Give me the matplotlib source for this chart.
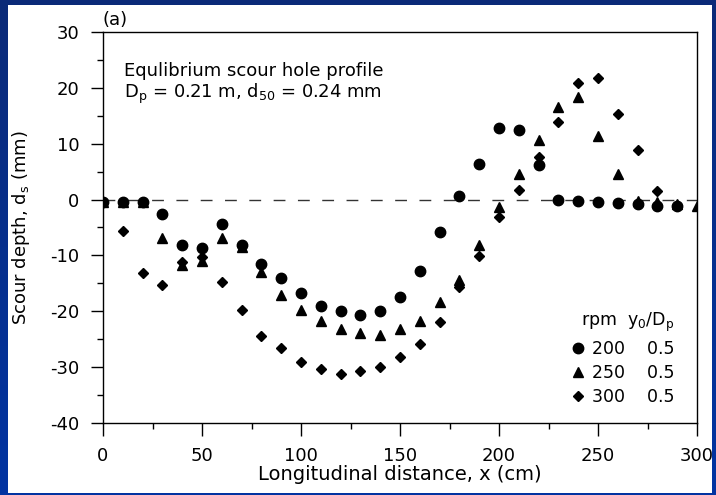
import numpy as np
import matplotlib
matplotlib.use("Agg")
import matplotlib.pyplot as plt
from matplotlib.patches import Rectangle
from matplotlib.ticker import MultipleLocator
from matplotlib.colors import LinearSegmentedColormap

plt.rcParams['font.family'] = ['DejaVu Sans']
plt.rcParams['mathtext.fontset'] = 'dejavusans'
plt.rcParams['axes.unicode_minus'] = False

# ---- data ----
x_200 = [0, 10, 20, 30, 40, 50, 60, 70, 80, 90, 100, 110, 120, 130, 140, 150,
         160, 170, 180, 190, 200, 210, 220, 230, 240, 250, 260, 270, 280, 290]
d_200 = [-0.4, -0.4, -0.4, -2.5, -8.2, -8.6, -4.4, -8.1, -11.6, -14.1, -16.7, -19.0,
         -19.9, -20.6, -19.9, -17.4, -12.7, -5.8, 0.7, 6.3, 12.8, 12.5, 6.2, -0.1,
         -0.2, -0.5, -0.7, -0.8, -1.1, -1.15]
x_250 = [0, 10, 20, 30, 40, 50, 60, 70, 80, 90, 100, 110, 120, 130, 140, 150,
         160, 170, 180, 190, 200, 210, 220, 230, 240, 250, 260, 270, 280, 290, 300]
d_250 = [-0.4, -0.4, -0.4, -6.8, -11.8, -11.0, -6.9, -8.5, -13.0, -17.1, -19.8, -21.7,
         -23.2, -23.9, -24.3, -23.2, -21.7, -18.3, -14.4, -8.1, -1.3, 4.5, 10.7, 16.5,
         18.3, 11.3, 4.6, -0.3, -0.5, -0.8, -1.1]
x_300 = [0, 10, 20, 30, 40, 50, 60, 70, 80, 90, 100, 110, 120, 130, 140, 150,
         160, 170, 180, 190, 200, 210, 220, 230, 240, 250, 260, 270, 280]
d_300 = [-0.4, -5.6, -13.2, -15.3, -11.1, -10.2, -14.7, -19.8, -24.4, -26.5, -29.0, -30.4,
         -31.2, -30.7, -30.0, -28.2, -25.8, -22.0, -15.7, -10.1, -3.2, 1.7, 7.7, 13.9,
         20.9, 21.7, 15.3, 8.8, 1.6]
rpm_labels = ['200', '250', '300']
y0_Dp = ['0.5', '0.5', '0.5']
x_ticks = [0, 50, 100, 150, 200, 250, 300]
y_ticks = [-40, -30, -20, -10, 0, 10, 20, 30]

W, H = 716, 495
fig = plt.figure(figsize=(W / 100, H / 100), dpi=100)

# background: blue gradient frame with white panel
bg = fig.add_axes([0, 0, 1, 1], zorder=-5)
bg.set_axis_off()
grad = np.linspace(0, 1, 256).reshape(-1, 1)
cmap = LinearSegmentedColormap.from_list('b', ['#0b2a78', '#0234a2'])
bg.imshow(grad, aspect='auto', cmap=cmap, extent=[0, 1, 0, 1], origin='upper')
bg.add_patch(Rectangle((8 / W, 2 / H), 704 / W, 488 / H, facecolor='white',
                       edgecolor='none', transform=bg.transAxes))
bg.set_xlim(0, 1)
bg.set_ylim(0, 1)

ax = fig.add_axes([103 / W, 1 - 423 / H, 594 / W, 391 / H])
ax.set_facecolor('none')
fs_tick = 13
fs_ann = 13
fs_lab = 14
fs_leg = 12.5

ax.axhline(0, color='#333333', lw=1.0, dashes=(8.5, 9), zorder=1)
sep = '    '
ax.plot(x_200, d_200, 'o', color='black', ms=7.5, ls='none', zorder=3,
        label=rpm_labels[0] + sep + y0_Dp[0])
ax.plot(x_250, d_250, '^', color='black', ms=7.5, ls='none', zorder=3,
        label=rpm_labels[1] + sep + y0_Dp[1])
ax.plot(x_300, d_300, 'D', color='black', ms=5.5, ls='none', zorder=3,
        label=rpm_labels[2] + sep + y0_Dp[2])

ax.set_xlim(0, 300)
ax.set_ylim(-40, 30)
ax.set_xticks(x_ticks)
ax.set_yticks(y_ticks)
ax.xaxis.set_minor_locator(MultipleLocator(25))
ax.yaxis.set_minor_locator(MultipleLocator(5))
ax.tick_params(which='major', direction='out', length=9, width=1.0, labelsize=fs_tick,
               top=False, right=False)
ax.tick_params(axis='x', which='major', pad=8)
ax.tick_params(axis='y', which='major', pad=8)
ax.tick_params(which='minor', direction='out', length=4.5, width=1.0,
               top=False, right=False)
for s in ax.spines.values():
    s.set_linewidth(1.0)

ax.set_xlabel('Longitudinal distance, x (cm)', fontsize=fs_lab, labelpad=0)
ax.set_ylabel(r'Scour depth, d$_{\rm s}$ (mm)', fontsize=13, labelpad=13)

ax.text(0.035, 0.887, 'Equlibrium scour hole profile', transform=ax.transAxes,
        fontsize=fs_ann, va='baseline', ha='left')
ax.text(0.035, 0.830, r'D$_{\rm p}$ = 0.21 m, d$_{\rm 50}$ = 0.24 mm',
        transform=ax.transAxes, fontsize=fs_ann, va='baseline', ha='left')
ax.text(0.0, 1.008, '(a)', transform=ax.transAxes, fontsize=fs_ann, va='bottom', ha='left')

leg = ax.legend(loc='lower right', bbox_to_anchor=(0.982, 0.012), frameon=False,
                fontsize=fs_leg, title=r'rpm  y$_{\rm 0}$/D$_{\rm p}$', title_fontsize=fs_leg,
                handlelength=0.8, handletextpad=0.4, labelspacing=0.35,
                alignment='right', borderpad=0.2)

fig.savefig('out.png', dpi=100)
